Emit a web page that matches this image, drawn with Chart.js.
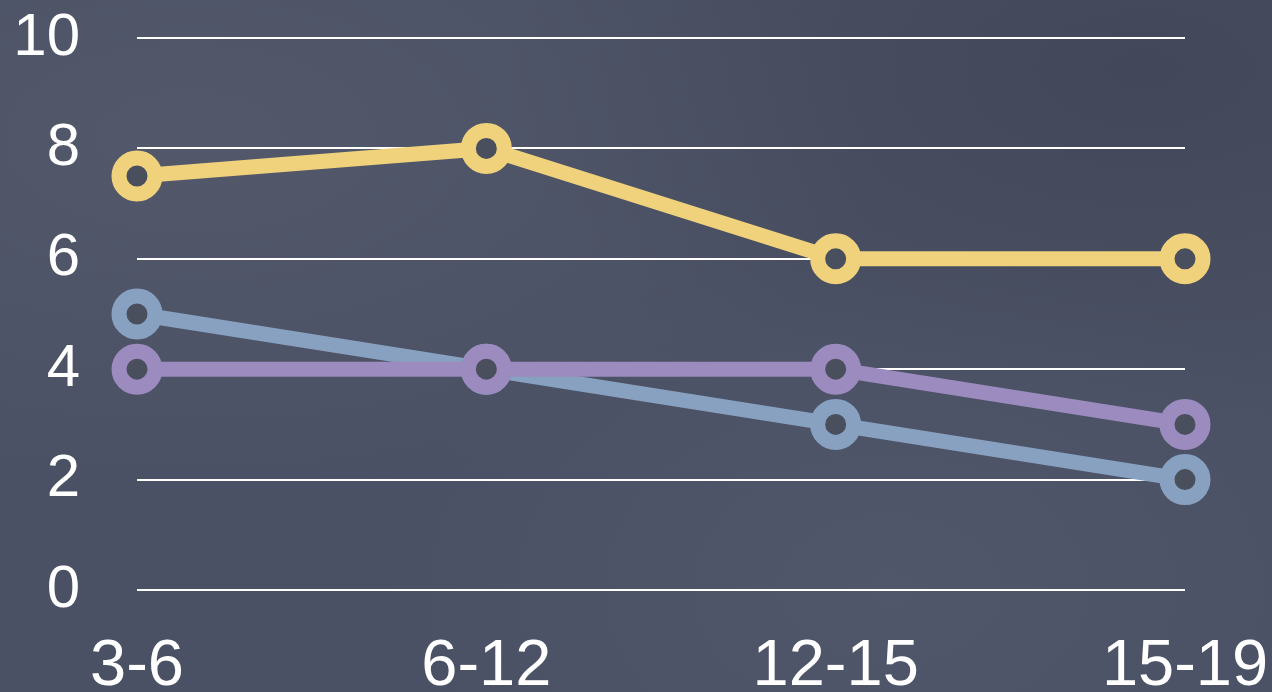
<!DOCTYPE html>
<html lang="en">

<head>
    <title>Line chart</title>
    <meta charset="utf-8" />
    <script src="https://cdn.jsdelivr.net/npm/chart.js"></script>
    <style>
        html, body {
            margin: 0;
            padding: 0;
            width: 1272px;
            height: 692px;
            overflow: hidden;
            background-color: #4b5164;
            background-image:
                radial-gradient(ellipse at 15% 20%, rgba(100, 106, 122, 0.3), rgba(0, 0, 0, 0) 45%),
                radial-gradient(ellipse at 70% 85%, rgba(100, 110, 130, 0.2), rgba(0, 0, 0, 0) 40%),
                radial-gradient(ellipse at 90% 10%, rgba(30, 34, 46, 0.2), rgba(0, 0, 0, 0) 40%);
        }
        #wrap {
            position: relative;
            width: 1272px;
            height: 692px;
        }
    </style>
</head>

<body>
    <div id="wrap">
        <canvas id="myChart"></canvas>
    </div>
    <script>
        // Data
        var categories = ['3-6', '6-12', '12-15', '15-19'];
        var yellowValues = [7.5, 8, 6, 6];
        var purpleValues = [4, 4, 4, 3];
        var blueValues = [5, 4, 3, 2];
        var yTicks = [0, 2, 4, 6, 8, 10];

        var holeColor = '#4a4f5e';

        function series(values, color) {
            return {
                data: values,
                borderColor: color,
                backgroundColor: holeColor,
                borderWidth: 15,
                pointRadius: 18,
                pointHoverRadius: 18,
                pointBorderWidth: 15,
                pointHoverBorderWidth: 15,
                pointBorderColor: color,
                pointBackgroundColor: holeColor,
                tension: 0,
                fill: false
            };
        }

        Chart.defaults.font.family = "'Liberation Sans', Arial, sans-serif";

        const ctx = document.getElementById('myChart').getContext('2d');
        new Chart(ctx, {
            type: 'line',
            data: {
                labels: categories,
                datasets: [
                    series(yellowValues, '#f0d27c'),
                    series(purpleValues, '#9b8bbf'),
                    series(blueValues, '#88a1c1')
                ]
            },
            options: {
                responsive: true,
                maintainAspectRatio: false,
                animation: false,
                layout: {
                    autoPadding: false,
                    padding: { top: 38, right: 87, bottom: 0, left: 0 }
                },
                plugins: {
                    legend: { display: false },
                    tooltip: { enabled: false }
                },
                scales: {
                    x: {
                        offset: false,
                        afterFit: function (axis) {
                            // labels may overhang the plot; keep the plot edges fixed
                            axis.paddingLeft = 0;
                            axis.paddingRight = 0;
                            axis.height = 102;
                        },
                        grid: { display: false, drawTicks: false },
                        border: { display: false },
                        ticks: {
                            color: '#ffffff',
                            font: { size: 65, lineHeight: 1 },
                            padding: 45,
                            maxRotation: 0,
                            autoSkip: false
                        }
                    },
                    y: {
                        min: 0,
                        max: 10,
                        afterBuildTicks: function (axis) {
                            axis.ticks = yTicks.map(function (v) { return { value: v }; });
                        },
                        afterFit: function (axis) {
                            axis.width = 137;
                            axis.paddingTop = 0;
                            axis.paddingBottom = 0;
                        },
                        grid: {
                            color: '#ffffff',
                            lineWidth: 2,
                            drawTicks: false
                        },
                        border: { display: false },
                        ticks: {
                            color: '#ffffff',
                            font: { size: 60 },
                            padding: 57
                        }
                    }
                }
            }
        });
    </script>
</body>

</html>
